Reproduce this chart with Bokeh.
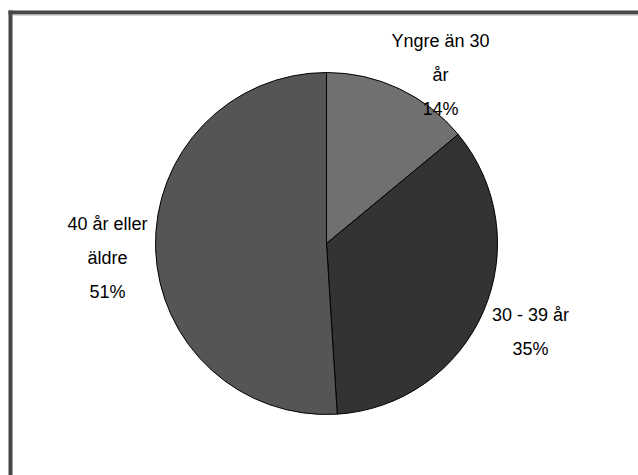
import numpy as np
from bokeh.plotting import figure
from bokeh.models import Range1d, ColumnDataSource
from bokeh.core.properties import value
from bokeh.embed import file_html
from bokeh.resources import INLINE

# ---- data ----
categories = ["Yngre än 30 år", "30 - 39 år", "40 år eller äldre"]
percent = [14, 35, 51]
colors = ["#707070", "#333333", "#555555"]
label_lines = [["Yngre än 30", "år", "14%"],
               ["30 - 39 år", "35%"],
               ["40 år eller", "äldre", "51%"]]

# ---- layout (pixels; figure coords == page pixels, y up) ----
W, H = 638, 475
cx, cy, R = 326, 232, 171
label_x = [440, 530, 107]
label_top_baseline = [434.5, 161, 252]
line_step = 34

p = figure(width=W, height=H, output_backend="svg", toolbar_location=None,
           x_range=Range1d(0, W), y_range=Range1d(0, H), min_border=0)
p.axis.visible = False
p.grid.visible = False
p.outline_line_color = None
p.background_fill_color = "white"
p.border_fill_color = "white"

frac = np.array(percent, dtype=float) / sum(percent)
cum = np.concatenate([[0], np.cumsum(frac)])
start = np.pi / 2 - 2 * np.pi * cum[1:]
end = np.pi / 2 - 2 * np.pi * cum[:-1]
src = ColumnDataSource(dict(x=[cx] * 3, y=[cy] * 3, start=start, end=end, color=colors))
p.wedge(x="x", y="y", radius=R, start_angle="start", end_angle="end",
        fill_color="color", line_color="black", line_width=1, source=src)

tx, ty, tt = [], [], []
for i, lines in enumerate(label_lines):
    for j, s in enumerate(lines):
        tx.append(label_x[i])
        ty.append(label_top_baseline[i] - j * line_step)
        tt.append(s)
p.text(x=tx, y=ty, text=tt, text_align="center", text_baseline="alphabetic",
       text_font=value("Liberation Sans"), text_font_size="18px", text_color="black")

# frame (top and left only, as in the reference)
p.quad(left=[8], right=[W], bottom=[461], top=[465], fill_color="#474747", line_color=None)
p.quad(left=[8], right=[12], bottom=[0], top=[465], fill_color="#474747", line_color=None)
p.segment(x0=[12], y0=[460.5], x1=[W], y1=[460.5], line_color="#b4b4b4", line_width=1)

open("out.html", "w").write(file_html(p, INLINE))
